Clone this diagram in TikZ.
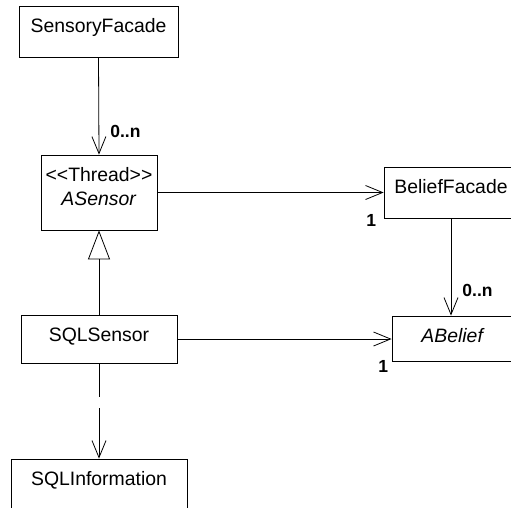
\documentclass[tikz,border=0pt]{standalone}
\usepackage{fontspec}
\setmainfont{Liberation Sans}
\usetikzlibrary{arrows.meta,positioning}
\tikzset{
	every node/.style={
		font=\fontsize{19.4}{24}\selectfont
	},
	umlclass/.style={
		shape=rectangle,
		draw,
		inner xsep=0pt,
		inner ysep=0pt,
		align=center,
		text height=26pt,
		text depth=#1
	},
	mult/.style={
		font=\fontsize{17.5}{20}\selectfont\bfseries,
		inner sep=0pt
	},
	assoc/.style={-{Straight Barb[length=17pt,width=14pt,line width=0.8pt]}},
	inherit/.style={-{Triangle[open,length=29pt,width=22pt,line width=0.8pt]}},
	depend/.style={assoc, dash pattern=on 34pt off 11pt on 90pt off 10pt},
}

\begin{document}
\begin{tikzpicture}[x=1pt,y=-1pt,line width=0.8pt]
	\useasboundingbox (0,0) rectangle (511,507);

	\node[umlclass=25pt, minimum width=159pt] (sensfac) at (98.5,31.5) {SensoryFacade};
	\node[umlclass=25pt, minimum width=116pt, text height=50pt] (asensor) at (99,192.5) {\textless{}\textless{}Thread\textgreater{}\textgreater{}\\\textit{ASensor}};
	\node[umlclass=25pt, minimum width=134pt] (belfac) at (451,192.5) {BeliefFacade};
	\node[umlclass=22pt, minimum width=156pt] (sqlsensor) at (99,339) {SQLSensor};
	\node[umlclass=19pt, minimum width=122pt] (abelief) at (453,338.5) {\textit{ABelief}};
	\node[umlclass=25pt, minimum width=176pt] (sqlinfo) at (99,484.5) {SQLInformation};

	% multiplicities
	\node[mult, anchor=base west] (m1) at ([xshift=11pt,yshift=17pt]asensor.north) {0..n};
	\node[mult, anchor=base east] (m2) at ([xshift=-7pt,yshift=-33.5pt]belfac.west) {1};
	\node[mult, anchor=base west] (m3) at ([xshift=9pt,yshift=19pt]abelief.north) {0..n};
	\node[mult, anchor=base east] (m4) at ([xshift=-3pt,yshift=-33.5pt]abelief.west) {1};

	\draw[assoc] (sensfac.south) -- (asensor.north);
	\draw[assoc] (asensor.east) -- (belfac.west);
	\draw[assoc] (belfac.south) -- (belfac.south |- abelief.north);
	\draw[assoc] (sqlsensor.east) -- (sqlsensor.east -| abelief.west);
	\draw[inherit] (sqlsensor.north) -- (asensor.south);
	\draw[depend] (sqlsensor.south) -- (sqlinfo.north);
\end{tikzpicture}
\end{document}
